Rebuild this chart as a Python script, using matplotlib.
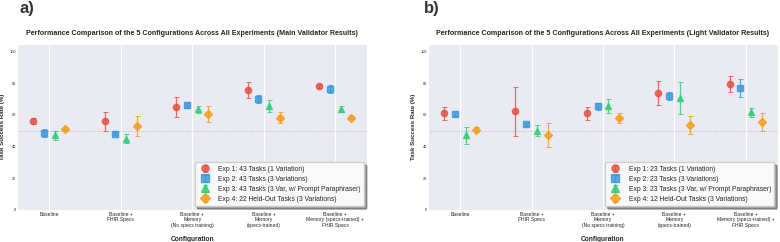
import numpy as np
import matplotlib.pyplot as plt
import seaborn as sns

sns.set_style('darkgrid')
plt.rcParams['font.family'] = ['Liberation Sans', 'DejaVu Sans']

configs = ['Baseline', 'Baseline +\nFHIR Specs', 'Baseline +\nMemory\n(No specs training)',
           'Baseline +\nMemory\n(specs-trained)', 'Baseline +\nMemory (specs-trained) +\nFHIR Specs']

# panel a) main validator: mean and error per experiment
main_exp1 = [56.0, 56.0, 65.0, 75.8, 78.3]
main_exp1_err = [2.0, 6.0, 6.3, 5.3, 1.0]
main_exp2 = [48.5, 48.0, 66.5, 70.0, 76.5]
main_exp2_err = [2.5, 1.0, 2.0, 2.5, 2.5]
main_exp3 = [47.0, 45.0, 63.5, 65.7, 63.7]
main_exp3_err = [3.0, 3.0, 2.5, 4.0, 2.0]
main_exp4 = [51.4, 53.0, 60.5, 58.3, 58.4]
main_exp4_err = [1.0, 6.5, 5.0, 3.5, 1.0]

# panel b) light validator
light_exp1 = [61.0, 62.3, 61.0, 73.8, 79.7]
light_exp1_err = [4.3, 15.4, 4.3, 7.5, 5.0]
light_exp2 = [60.8, 54.0, 65.4, 72.3, 77.2]
light_exp2_err = [1.5, 1.0, 2.5, 2.5, 5.5]
light_exp3 = [47.0, 50.0, 65.7, 70.9, 61.7]
light_exp3_err = [5.5, 3.5, 4.6, 10.2, 3.0]
light_exp4 = [50.7, 47.3, 58.0, 53.5, 55.4]
light_exp4_err = [1.5, 7.5, 3.0, 5.7, 5.7]

main_labels = ['Exp 1: 43 Tasks (1 Variation)', 'Exp 2: 43 Tasks (3 Variations)',
               'Exp 3: 43 Tasks (3 Var, w/ Prompt Paraphraser)', 'Exp 4: 22 Held-Out Tasks (3 Variations)']
light_labels = ['Exp 1: 23 Tasks (1 Variation)', 'Exp 2: 23 Tasks (3 Variations)',
                'Exp 3: 23 Tasks (3 Var, w/ Prompt Paraphraser)', 'Exp 4: 12 Held-Out Tasks (3 Variations)']

colors = ['#e74c3c', '#3498db', '#2ecc71', '#f39c12']
markers = ['o', 's', '^', 'D']


def draw_panel(ax, means, errs, labels, title):
    x = np.arange(len(configs))
    for i in range(4):
        pos = x + (i - 1.5) * 0.15
        ax.errorbar(pos, means[i], yerr=errs[i], fmt=markers[i], color=colors[i],
                    ecolor=colors[i], elinewidth=0.9, capsize=1.8, capthick=0.7,
                    markersize=4.5, alpha=0.8, label=labels[i])
    ax.axhline(50, color='gray', linestyle=':', linewidth=0.6, alpha=0.6)
    ax.set_ylim(0, 105)
    ax.set_yticks([0, 20, 40, 60, 80, 100])
    ax.set_xticks(x)
    ax.set_xticklabels(configs, fontsize=3.6, linespacing=1.15)
    ax.tick_params(axis='y', labelsize=2.8, pad=1, length=0)
    ax.tick_params(axis='x', pad=1.6, length=0)
    ax.grid(axis='y', visible=False)
    ax.set_xlabel('Configuration', fontsize=4.8, fontweight='bold')
    ax.xaxis.set_label_coords(0.5, -0.16)
    ax.set_ylabel('Task Success Rate (%)', fontsize=4.4, fontweight='bold')
    ax.yaxis.set_label_coords(-0.036, 0.5)
    ax.set_title(title, fontsize=5.1, fontweight='bold', pad=6.5)
    ax.legend(loc='lower right', fontsize=4.85, frameon=True, facecolor='white',
              shadow=True, framealpha=0.95, borderpad=0.5, labelspacing=0.45,
              handletextpad=1.0, markerscale=1.15)


fig = plt.figure(figsize=(7.8, 2.42), dpi=100)
ax1 = fig.add_axes([0.022, 0.134, 0.449, 0.684])
ax2 = fig.add_axes([0.549, 0.134, 0.448, 0.684])

draw_panel(ax1, [main_exp1, main_exp2, main_exp3, main_exp4],
           [main_exp1_err, main_exp2_err, main_exp3_err, main_exp4_err], main_labels,
           'Performance Comparison of the 5 Configurations Across All Experiments (Main Validator Results)')
draw_panel(ax2, [light_exp1, light_exp2, light_exp3, light_exp4],
           [light_exp1_err, light_exp2_err, light_exp3_err, light_exp4_err], light_labels,
           'Performance Comparison of the 5 Configurations Across All Experiments (Light Validator Results)')

fig.text(0.025, 0.965, 'a)', fontsize=12, fontweight='bold', color='#333333', va='center')
fig.text(0.544, 0.965, 'b)', fontsize=12, fontweight='bold', color='#333333', va='center')

fig.savefig('out.png', dpi=100)
